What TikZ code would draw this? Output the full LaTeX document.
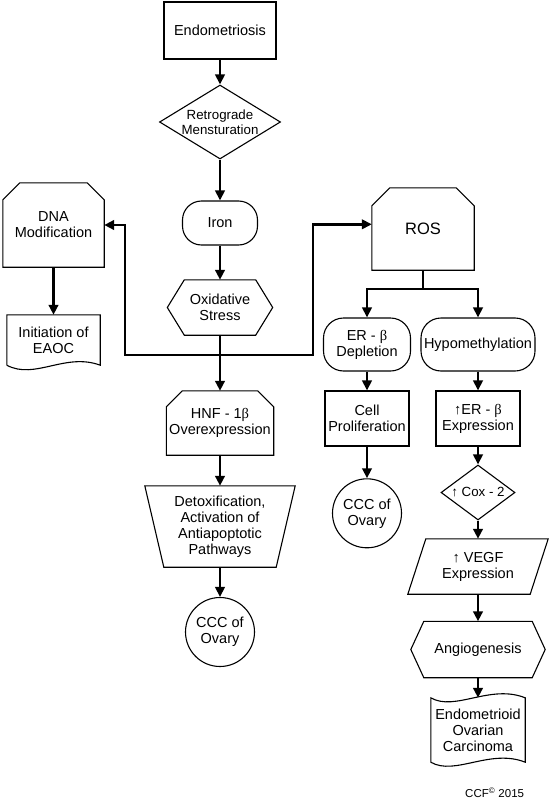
\documentclass[tikz,border=0pt]{standalone}
\usepackage{fontspec}
\setmainfont{Liberation Sans}
\newfontfamily\serifgrec{Liberation Serif}
\usetikzlibrary{shapes.geometric,arrows.meta,calc}
\newcommand{\bet}{{\serifgrec β}}
\tikzset{
  box/.style={draw, line width=1.1bp},
  lbl/.style={align=center, inner sep=0pt, font=\fontsize{14.5bp}{16bp}\selectfont},
  petit/.style={font=\fontsize{13.3bp}{14.5bp}\selectfont},
  arr/.style={line width=2.6bp, -{Triangle[length=10bp,width=9.5bp]}},
  trait/.style={line width=2.6bp},
}
% boite aux coins du haut coupes
\newcommand{\coupe}[2]{\draw[box] (#1.south west) -- ($(#1.north west)+(0,#2)$) -- ($(#1.north west)+(#2,0)$) -- ($(#1.north east)+(-#2,0)$) -- ($(#1.north east)+(0,#2)$) -- (#1.south east) -- cycle;}
% hexagone
\newcommand{\hexa}[2]{\draw[box] (#1.west) -- ($(#1.north west)+(#2,0)$) -- ($(#1.north east)+(-#2,0)$) -- (#1.east) -- ($(#1.south east)+(-#2,0)$) -- ($(#1.south west)+(#2,0)$) -- cycle;}

\begin{document}
\begin{tikzpicture}[x=1bp, y=-1bp]
        \useasboundingbox (0,0) rectangle (553,799);
        % Colonne centrale
        \node[lbl, box, minimum width=112bp, minimum height=57bp] (endo) at (220,30.5) {Endometriosis};
        \node[lbl, petit, box, diamond, aspect=1.6, minimum width=121bp, minimum height=74bp] (retro) at (220,122) {Retrograde\\Mensturation};
        \node[lbl, box, rounded corners=19bp, minimum width=75bp, minimum height=44bp] (iron) at (220,223) {Iron};
        \node[lbl, minimum width=105bp, minimum height=55bp] (oxi) at (220,307.5) {Oxidative\\Stress};
        \node[lbl, minimum width=107bp, minimum height=64bp] (hnf) at (220,423) {HNF - 1\bet\\Overexpression};
        \node[lbl, minimum width=150bp, minimum height=81bp] (detox) at (220,526.5) {Detoxification,\\Activation of\\Antiapoptotic\\Pathways};
        \node[lbl, box, circle, minimum size=69bp] (ccc1) at (220,632) {CCC of\\Ovary};
        % Colonne gauche
        \node[lbl, minimum width=101bp, minimum height=84bp] (dna) at (53.5,225) {DNA\\Modification};
        \node[lbl, minimum width=93bp, minimum height=50bp] (init) at (53.5,340) {Initiation of\\EAOC};
        % Colonnes droites
        \node[lbl, font=\fontsize{16.5bp}{18bp}\selectfont, minimum width=102bp, minimum height=82bp] (ros) at (423,229) {ROS};
        \node[lbl, box, rounded corners=20bp, minimum width=87bp, minimum height=53bp] (erdep) at (367,344.5) {ER - \bet\\Depletion};
        \node[lbl, box, rounded corners=20bp, minimum width=114bp, minimum height=53bp] (hypo) at (478,344.5) {Hypomethylation};
        \node[lbl, box, minimum width=84bp, minimum height=55bp] (cellp) at (367,418.5) {Cell\\Proliferation};
        \node[lbl, box, minimum width=84bp, minimum height=55bp] (erexp) at (478,418.5) {↑ER - \bet\\Expression};
        \node[lbl, box, circle, minimum size=69bp] (ccc2) at (367,513.3) {CCC of\\Ovary};
        \node[lbl, petit, box, diamond, aspect=1.35, minimum width=74bp, minimum height=55bp] (cox) at (478,492.5) {↑ Cox - 2};
        \node[lbl, minimum width=140bp, minimum height=55bp] (vegf) at (478,566.5) {↑ VEGF\\Expression};
        \node[lbl, minimum width=134bp, minimum height=56bp] (angio) at (478,649.5) {Angiogenesis};
        \node[lbl, minimum width=94bp, minimum height=64bp] (tape) at (478,730) {Endometrioid\\Ovarian\\Carcinoma};
        \node[font=\fontsize{11.5bp}{13bp}\selectfont, anchor=west, inner sep=0pt] (ccf) at (465,793) {CCF\textsuperscript{©} 2015};

        % Contours
        \coupe{dna}{17}
        \coupe{ros}{18}
        \coupe{hnf}{16}
        \hexa{oxi}{17}
        \hexa{angio}{13}
        \draw[box] (detox.north west) -- (detox.north east) -- ($(detox.south east)+(-19,0)$) -- ($(detox.south west)+(19,0)$) -- cycle;
        \draw[box] ($(vegf.north west)+(18,0)$) -- (vegf.north east) -- ($(vegf.south east)+(-18,0)$) -- (vegf.south west) -- cycle;
        \draw[box] (init.south west) -- (init.north west) -- (init.north east) -- (init.south east) .. controls ($(init.south east)+(-35,-13)$) and ($(init.south west)+(28,15)$) .. (init.south west);
        \draw[box] (tape.north west) .. controls ($(tape.north west)+(24,14)$) and ($(tape.north east)+(-35,-14)$) .. (tape.north east) -- (tape.south east) .. controls ($(tape.south east)+(-35,-14)$) and ($(tape.south west)+(24,14)$) .. (tape.south west) -- cycle;

        % Fleches
        \draw[arr] (endo.south) -- (retro.north);
        \draw[arr] (retro.south) -- (iron.north);
        \draw[arr] (iron.south) -- (oxi.north);
        \draw[arr] (oxi.south) -- (hnf.north);
        \coordinate (split) at (220,355);
        \coordinate (lturn) at (125,355);
        \coordinate (rturn) at (313,355);
        \draw[arr] (split) -- (lturn) |- (dna.east);
        \draw[arr] (split) -- (rturn) |- ([yshift=4.7bp]ros.west);
        \draw[arr] (dna.south) -- (init.north);
        \draw[arr] (hnf.south) -- (detox.north);
        \draw[arr] (detox.south) -- (ccc1.north);
        \coordinate (fork) at (423,289);
        \draw[trait] (ros.south) -- (fork);
        \draw[arr] (fork) -| (erdep.north);
        \draw[arr] (fork) -| (hypo.north);
        \draw[arr] (erdep.south) -- (cellp.north);
        \draw[arr] (cellp.south) -- (ccc2.north);
        \draw[arr] (hypo.south) -- (erexp.north);
        \draw[arr] (erexp.south) -- (cox.north);
        \draw[arr] (cox.south) -- (vegf.north);
        \draw[arr] (vegf.south) -- (angio.north);
        \draw[arr] (angio.south) -- (tape.north);
\end{tikzpicture}
\end{document}
